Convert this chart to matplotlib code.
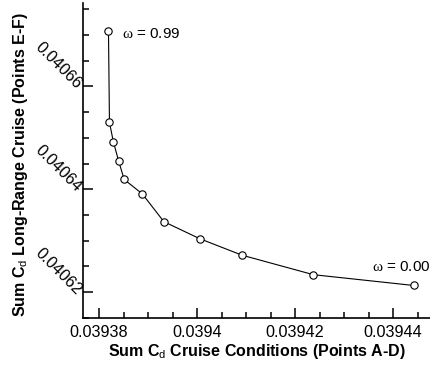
import matplotlib
matplotlib.use("Agg")
import matplotlib.pyplot as plt
from matplotlib.ticker import MultipleLocator, FuncFormatter

plt.rcParams['font.family'] = ['Liberation Sans', 'DejaVu Sans']
plt.rcParams['mathtext.fontset'] = 'custom'
plt.rcParams['mathtext.rm'] = 'Liberation Serif'
plt.rcParams['mathtext.sf'] = 'Liberation Sans'

# cruise drag (A-D) vs long-range cruise drag (E-F), omega from 0.99 down to 0.00
cd_cruise = [0.0393819, 0.0393821, 0.0393829, 0.0393840, 0.0393851, 0.0393888,
             0.0393932, 0.0394005, 0.0394091, 0.0394237, 0.0394442]
cd_long_range = [0.0406708, 0.0406530, 0.0406492, 0.0406454, 0.0406419, 0.0406391,
                 0.0406337, 0.0406304, 0.0406272, 0.0406234, 0.0406213]
omega_labels = [r"$\mathrm{\omega}$ = 0.99", r"$\mathrm{\omega}$ = 0.00"]

fig = plt.figure(figsize=(4.3, 3.65), dpi=100)
ax = fig.add_axes([0.193, 0.129, 0.807, 0.863])

ax.plot(cd_cruise, cd_long_range, color='black', lw=0.8, marker='o', ms=5.3,
        mfc='white', mec='black', mew=0.8)

ax.annotate(omega_labels[0], (cd_cruise[0], cd_long_range[0]), xytext=(14, -3),
            textcoords='offset pixels', ha='left', va='center', fontsize=11)
ax.annotate(omega_labels[1], (cd_cruise[-1], cd_long_range[-1]), xytext=(17, 18),
            textcoords='offset pixels', ha='right', va='center', fontsize=11,
            annotation_clip=False)

ax.set_xlim(0.0393767, 0.0394475)
ax.set_ylim(0.040615, 0.0406762)

ax.xaxis.set_major_locator(MultipleLocator(0.00002))
ax.xaxis.set_minor_locator(MultipleLocator(0.000005))
ax.yaxis.set_major_locator(MultipleLocator(0.00002))
ax.yaxis.set_minor_locator(MultipleLocator(0.000005))
fmt = FuncFormatter(lambda v, p: '%g' % round(v, 6))
ax.xaxis.set_major_formatter(fmt)
ax.yaxis.set_major_formatter(fmt)

ax.tick_params(which='major', direction='in', length=7, width=1.1, labelsize=11.7)
ax.tick_params(which='minor', direction='in', length=4, width=1.1)
ax.tick_params(axis='x', pad=5)
ax.tick_params(axis='y', pad=3)
for lab in ax.get_yticklabels():
    lab.set_rotation(-45)
    lab.set_rotation_mode('anchor')
    lab.set_ha('right')
    lab.set_va('center')

for s in ['top', 'right']:
    ax.spines[s].set_visible(False)
for s in ['left', 'bottom']:
    ax.spines[s].set_linewidth(1.2)

ax.set_xlabel(r"Sum C$_\mathsf{d}$ Cruise Conditions (Points A-D)", fontsize=11.5, fontweight='bold')
ax.set_ylabel(r"Sum C$_\mathsf{d}$ Long-Range Cruise (Points E-F)", fontsize=11.5, fontweight='bold')
ax.xaxis.set_label_coords(0.5, -0.108)
ax.yaxis.set_label_coords(-0.18, 0.486)
ax.xaxis.label.set_va('center')
ax.yaxis.label.set_va('center')

fig.savefig("out.png", dpi=100)
